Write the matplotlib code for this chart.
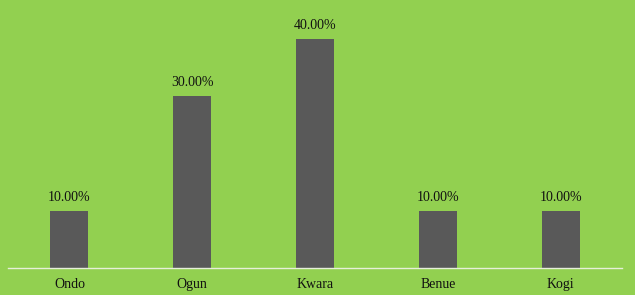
import matplotlib
matplotlib.use("Agg")
import matplotlib.pyplot as plt

# -----------------------------
# Data
# -----------------------------
states = ["Ondo", "Ogun", "Kwara", "Benue", "Kogi"]
shares = [10.0, 30.0, 40.0, 10.0, 10.0]
value_labels = ["10.00%", "30.00%", "40.00%", "10.00%", "10.00%"]

bg = "#92D050"
bar_color = "#595959"

plt.rcParams["font.family"] = ["Liberation Serif", "DejaVu Serif"]

fig = plt.figure(figsize=(6.35, 2.95), dpi=100, facecolor=bg)
W, H = 635, 295
# plot area: x 8..622 px, baseline at y=268 px, top ~10 px
ax = fig.add_axes([8 / W, (H - 268) / H, 614 / W, (268 - 10.4) / H])
ax.set_facecolor(bg)

x = range(len(states))
bars = ax.bar(x, shares, width=0.31, color=bar_color, zorder=2)

for rect, lab in zip(bars, value_labels):
    ax.annotate(
        lab,
        (rect.get_x() + rect.get_width() / 2, rect.get_height()),
        xytext=(0, 5),
        textcoords="offset points",
        ha="center",
        va="bottom",
        fontsize=10,
        color="#111111",
    )

ax.set_xlim(-0.5, len(states) - 0.5)
ax.set_ylim(0, 45)
ax.set_xticks(list(x))
ax.set_xticklabels(states, fontsize=10, color="#111111")
ax.tick_params(axis="x", length=0, pad=7)
ax.set_yticks([])

for side in ["top", "right", "left"]:
    ax.spines[side].set_visible(False)
ax.spines["bottom"].set_color("#E6EFD9")
ax.spines["bottom"].set_linewidth(1.0)

fig.savefig("out.png", dpi=100, facecolor=bg)
